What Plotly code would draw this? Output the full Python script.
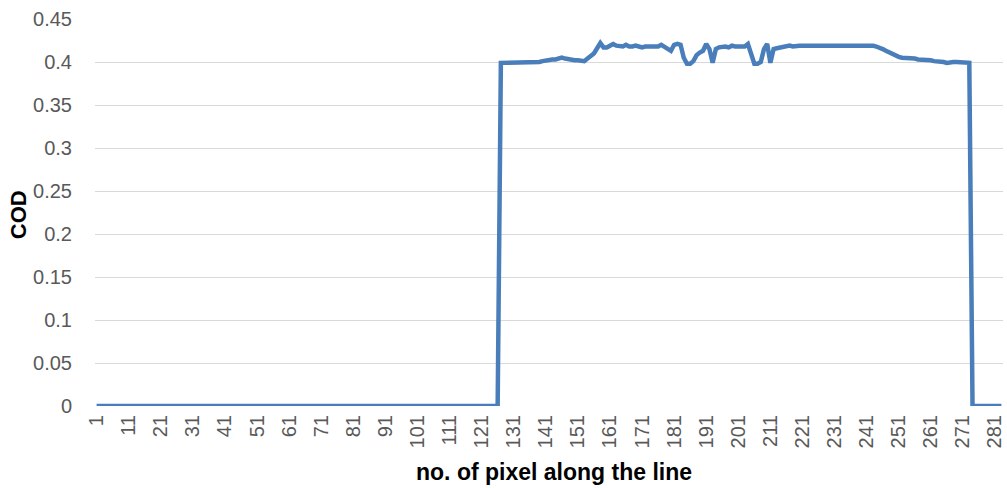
import plotly.graph_objects as go

n_points = 283
rise_start = 127
profile = [
    0.399, 0.399, 0.399, 0.399, 0.399, 0.399, 0.399, 0.399, 0.400, 0.399,  # 127-136
    0.400, 0.400, 0.400, 0.401, 0.402, 0.402, 0.403, 0.403, 0.404, 0.405,  # 137-146
    0.404, 0.403, 0.403, 0.402, 0.402, 0.401, 0.401, 0.404, 0.407, 0.410,  # 147-156
    0.416, 0.422, 0.417, 0.417, 0.419, 0.421, 0.419, 0.419, 0.418, 0.420,  # 157-166
    0.418, 0.418, 0.419, 0.418, 0.417, 0.418, 0.418, 0.418, 0.419, 0.418,  # 167-176
    0.420, 0.418, 0.416, 0.413, 0.420, 0.421, 0.420, 0.405, 0.398, 0.398,  # 177-186
    0.401, 0.408, 0.411, 0.413, 0.421, 0.415, 0.399, 0.415, 0.417, 0.418,  # 187-196
    0.418, 0.417, 0.419, 0.418, 0.418, 0.419, 0.418, 0.421, 0.410, 0.398,  # 197-206
    0.398, 0.400, 0.415, 0.421, 0.399, 0.415, 0.416, 0.417, 0.418, 0.418,  # 207-216
    0.419, 0.418, 0.419, 0.419, 0.419, 0.419, 0.419, 0.419, 0.419, 0.419,  # 217-226
    0.419, 0.419, 0.419, 0.419, 0.419, 0.419, 0.419, 0.419, 0.419, 0.419,  # 227-236
    0.419, 0.419, 0.420, 0.420, 0.420, 0.420, 0.419, 0.418, 0.417, 0.415,  # 237-246
    0.413, 0.411, 0.409, 0.407, 0.406, 0.405, 0.405, 0.405, 0.404, 0.404,  # 247-256
    0.403, 0.403, 0.402, 0.402, 0.402, 0.401, 0.401, 0.400, 0.400, 0.399,  # 257-266
    0.400, 0.400, 0.400, 0.400, 0.400, 0.399, 0.399,                       # 267-273
]

x_values = list(range(1, n_points + 1))
cod_values = [0.0] * (rise_start - 1) + profile
cod_values += [0.0] * (n_points - len(cod_values))

x_tick_vals = list(range(1, 282, 10))
x_tick_text = [str(v) for v in x_tick_vals]
y_tick_vals = [0, 0.05, 0.1, 0.15, 0.2, 0.25, 0.3, 0.35, 0.4, 0.45]
y_tick_text = ["0", "0.05", "0.1", "0.15", "0.2", "0.25", "0.3", "0.35", "0.4", "0.45"]

x_title = "no. of pixel along the line"
y_title = "COD"

font_family = "Liberation Sans, Arial, sans-serif"

fig = go.Figure()
fig.add_trace(go.Scatter(
    x=x_values, y=cod_values, mode="lines",
    line=dict(color="#4a7ebb", width=4.5),
    showlegend=False, hoverinfo="x+y",
))

fig.update_layout(
    width=1007, height=488,
    margin=dict(l=95, r=2, t=19, b=82),
    paper_bgcolor="white", plot_bgcolor="white",
    font=dict(family=font_family, color="#595959", size=20),
    xaxis=dict(
        range=[0.5, n_points + 0.5],
        tickmode="array", tickvals=x_tick_vals, ticktext=x_tick_text,
        tickangle=-90, showgrid=False, zeroline=False, showline=False,
        ticks="", ticklabelstandoff=4, ticklabeloverflow="allow",
        tickfont=dict(size=20, color="#595959"),
    ),
    yaxis=dict(
        range=[0, 0.45],
        tickmode="array", tickvals=y_tick_vals, ticktext=y_tick_text,
        showgrid=True, gridcolor="#d9d9d9", gridwidth=1,
        zeroline=False, showline=False, ticks="",
        ticklabelstandoff=22, ticklabeloverflow="allow",
        tickfont=dict(size=20, color="#595959"),
    ),
    annotations=[
        dict(text="<b>" + x_title + "</b>", xref="paper", yref="paper",
             x=(555 - 95) / 910, y=-(472 - 406) / 387, xanchor="center", yanchor="middle",
             showarrow=False, font=dict(size=23, color="#000000", family=font_family)),
        dict(text="<b>" + y_title + "</b>", xref="paper", yref="paper",
             x=-(95 - 18) / 910, y=(406 - 215) / 387, xanchor="center", yanchor="middle",
             textangle=-90, showarrow=False,
             font=dict(size=22, color="#000000", family=font_family)),
    ],
)

fig.write_html("out.html")
